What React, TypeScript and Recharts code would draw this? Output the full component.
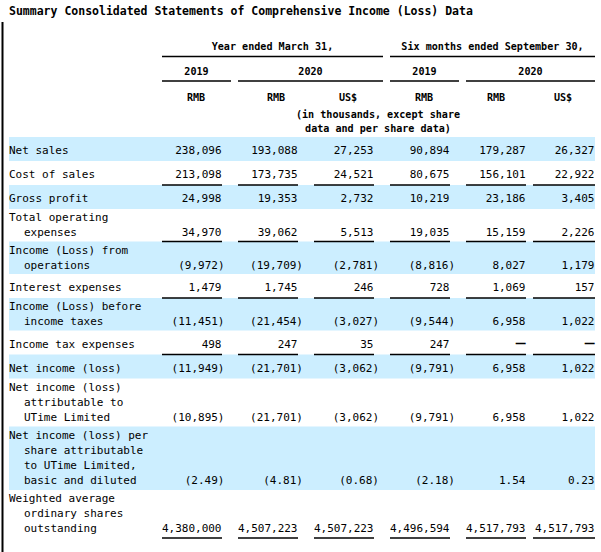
import { ComposedChart, ReferenceArea, ReferenceLine, Scatter, XAxis, YAxis } from "recharts"

const title = "Summary Consolidated Statements of Comprehensive Income (Loss) Data"
const periods = ["Year ended March 31,", "Six months ended September 30,"]
const years = ["2019", "2020", "2019", "2020"]
const currencies = ["RMB", "RMB", "US$", "RMB", "RMB", "US$"]
const unitNote = ["(in thousands, except share", "data and per share data)"]

const rowLabels = [
  ["Net sales"],
  ["Cost of sales"],
  ["Gross profit"],
  ["Total operating", "expenses"],
  ["Income (Loss) from", "operations"],
  ["Interest expenses"],
  ["Income (Loss) before", "income taxes"],
  ["Income tax expenses"],
  ["Net income (loss)"],
  ["Net income (loss)", "attributable to", "UTime Limited"],
  ["Net income (loss) per", "share attributable", "to UTime Limited,", "basic and diluted"],
  ["Weighted average", "ordinary shares", "outstanding"],
]
const shadedRows = [0, 2, 4, 6, 8, 10]
const underlinedRows = [1, 3, 5, 7, 11]
const perShareRows = [10]

const fy2019Rmb = [238096, 213098, 24998, 34970, -9972, 1479, -11451, 498, -11949, -10895, -2.49, 4380000]
const fy2020Rmb = [193088, 173735, 19353, 39062, -19709, 1745, -21454, 247, -21701, -21701, -4.81, 4507223]
const fy2020Usd = [27253, 24521, 2732, 5513, -2781, 246, -3027, 35, -3062, -3062, -0.68, 4507223]
const h2019Rmb = [90894, 80675, 10219, 19035, -8816, 728, -9544, 247, -9791, -9791, -2.18, 4496594]
const h2020Rmb = [179287, 156101, 23186, 15159, 8027, 1069, 6958, null, 6958, 6958, 1.54, 4517793]
const h2020Usd = [26327, 22922, 3405, 2226, 1179, 157, 1022, null, 1022, 1022, 0.23, 4517793]
const columns = [fy2019Rmb, fy2020Rmb, fy2020Usd, h2019Rmb, h2020Rmb, h2020Usd]

// layout (pixels)
const W = 601
const H = 552
const colLeft = [162, 238, 314, 390, 466, 533]
const colRight = [222, 298, 374, 450, 526, 595]
const parenHang = [2.5, 5, 5, 5, 5, 5]
const unitX = [196, 276, 348, 424, 496, 563]
const yearSpans = [[162, 231], [238, 383], [390, 459], [466, 595]]
const periodSpans = [[162, 383], [390, 595]]
const bodyTop = 137
const lineGap = 15
const font = "'DejaVu Sans Mono', monospace"

const rowHeight = (n: number) => (n === 1 ? 24 : 15.5 * n + 1.5)

const rows = (() => {
  let top = bodyTop
  return rowLabels.map((lines) => {
    const h = rowHeight(lines.length)
    const mid = top + h / 2 + (lines.length === 1 ? 1.5 : -0.5)
    const ys = lines.map((_, i) => mid - ((lines.length - 1) * lineGap) / 2 + i * lineGap)
    const r = { top, bottom: top + h, ys }
    top += h
    return r
  })
})()

const fmt = (v: number | null, row: number) => {
  if (v === null) return "—"
  const abs = Math.abs(v)
  const s = perShareRows.includes(row) ? abs.toFixed(2) : abs.toLocaleString("en-US")
  return v < 0 ? `(${s})` : s
}

const labelPoints = rowLabels.flatMap((lines, r) =>
  lines.map((text, i) => ({ x: i === 0 ? 9 : 24, y: rows[r].ys[i], text }))
)

const cellPoints = columns.map((vals, c) =>
  vals.map((v, r) => ({
    x: v !== null && v < 0 ? colRight[c] + parenHang[c] : colRight[c] - 0.5,
    y: rows[r].ys[rows[r].ys.length - 1],
    text: fmt(v, r),
  }))
)

const headerPoints = [
  { x: 9, y: 11, text: title, size: 11.5, anchor: "start" },
  ...periods.map((text, i) => ({ x: (periodSpans[i][0] + periodSpans[i][1]) / 2, y: 46, text, size: 10.1, anchor: "middle" })),
  ...years.map((text, i) => ({ x: (yearSpans[i][0] + yearSpans[i][1]) / 2, y: 71, text, size: 10.1, anchor: "middle" })),
  ...currencies.map((text, i) => ({ x: unitX[i], y: 97, text, size: 10.1, anchor: "middle" })),
  ...unitNote.map((text, i) => ({ x: 378, y: 114 + i * 14, text, size: 10.1, anchor: "middle" })),
]

const bodyText = (anchor: string) => (props: any) => {
  const dash = props.payload.text === "—"
  return (
    <text
      x={props.cx}
      y={props.cy}
      dy={dash ? "0.33em" : "0.36em"}
      textAnchor={anchor}
      fontFamily={font}
      fontSize={dash ? 16 : 11}
      fill="#000"
    >
      {dash ? "─" : props.payload.text}
    </text>
  )
}

const headerText = (props: any) => (
  <text
    x={props.cx}
    y={props.cy}
    dy="0.36em"
    textAnchor={props.payload.anchor}
    fontFamily={font}
    fontSize={props.payload.size}
    fontWeight="bold"
    fill="#000"
  >
    {props.payload.text}
  </text>
)

export default function App() {
  return (
    <div style={{ position: "absolute", left: 0, top: 0, background: "#fff" }}>
      <ComposedChart width={W} height={H} margin={{ top: 0, right: 0, bottom: 0, left: 0 }}>
        <XAxis type="number" dataKey="x" domain={[0, W]} hide />
        <YAxis type="number" dataKey="y" domain={[0, H]} reversed hide />
        {shadedRows.map((r) => (
          <ReferenceArea
            key={`band-${r}`}
            x1={9}
            x2={595}
            y1={rows[r].top}
            y2={rows[r].bottom}
            fill="#cceeff"
            fillOpacity={1}
            stroke="none"
          />
        ))}
        <ReferenceLine
          segment={[{ x: 2.5, y: 22 }, { x: 2.5, y: H }]}
          stroke="#000"
          strokeWidth={2}
        />
        {periodSpans.map(([a, b], i) => (
          <ReferenceLine key={`p-${i}`} segment={[{ x: a, y: 56.5 }, { x: b, y: 56.5 }]} stroke="#000" strokeWidth={1.5} />
        ))}
        {yearSpans.map(([a, b], i) => (
          <ReferenceLine key={`y-${i}`} segment={[{ x: a, y: 81 }, { x: b, y: 81 }]} stroke="#000" strokeWidth={1.5} />
        ))}
        {underlinedRows.flatMap((r) =>
          colLeft.map((a, c) => (
            <ReferenceLine
              key={`u-${r}-${c}`}
              segment={[{ x: a, y: rows[r].bottom }, { x: colRight[c], y: rows[r].bottom }]}
              stroke="#000"
              strokeWidth={1.5}
            />
          ))
        )}
        <Scatter data={headerPoints} shape={headerText} isAnimationActive={false} />
        <Scatter data={labelPoints} shape={bodyText("start")} isAnimationActive={false} />
        {cellPoints.map((pts, c) => (
          <Scatter key={`col-${c}`} data={pts} shape={bodyText("end")} isAnimationActive={false} />
        ))}
      </ComposedChart>
    </div>
  )
}
